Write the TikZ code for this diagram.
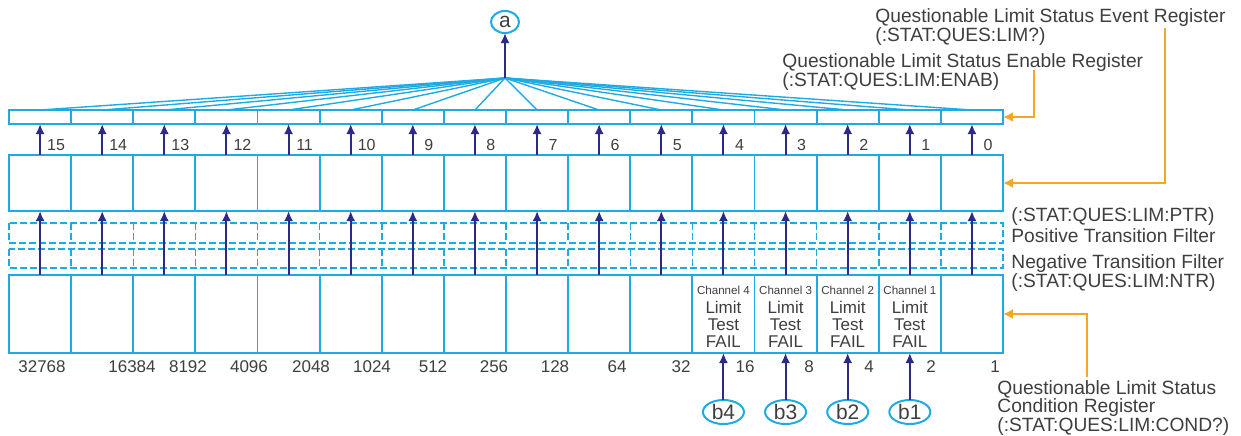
\documentclass[tikz,border=0pt]{standalone}
\usepackage{fontspec}
\setmainfont{Liberation Sans}
\usetikzlibrary{arrows.meta, shapes.geometric, calc}
\definecolor{regcol}{RGB}{30,170,226}
\definecolor{bitcol}{RGB}{43,42,135}
\definecolor{ptrcol}{RGB}{247,166,35}
\definecolor{inkcol}{RGB}{62,62,62}
\tikzset{
  cell/.style={draw=regcol, line width=0.9pt, inner sep=0pt, outer sep=0pt, minimum width=31.0625pt},
  encell/.style={cell, minimum height=7pt},
  evcell/.style={cell, minimum height=28pt},
  ptcell/.style={inner sep=0pt, outer sep=0pt, minimum width=31.0625pt, minimum height=10pt},
  ntcell/.style={ptcell, minimum height=9.5pt},
  cocell/.style={cell, minimum height=39pt},
  regframe/.style={regcol, line width=1.1pt},
  filterline/.style={regcol, line width=0.75pt, dash pattern=on 3.5pt off 1.5pt},
  fanline/.style={regcol, line width=0.7pt},
  bitarrow/.style={bitcol, line width=1pt, -{Latex[length=5pt, width=4.5pt]}},
  ptrarrow/.style={ptrcol, line width=1pt, -{Latex[length=5pt, width=5pt]}},
  bitnum/.style={inkcol, font=\fontsize{8}{8}\selectfont, inner sep=0pt},
  weight/.style={inkcol, font=\fontsize{8.5}{8.5}\selectfont, inner sep=0pt},
  reglabel/.style={inkcol, font=\fontsize{9.6}{9.7}\selectfont, align=left, anchor=north west, inner sep=0pt},
  chantext/.style={inkcol, font=\fontsize{8.5}{8.5}\selectfont, align=center, anchor=north, inner sep=0pt},
  bubble/.style={ellipse, draw=regcol, line width=1pt, inner sep=0pt, outer sep=0pt,
    text=inkcol, font=\fontsize{10.5}{10.5}\selectfont}
}

\begin{document}
\begin{tikzpicture}[x=0.5pt, y=-0.5pt]

  \useasboundingbox (0,0) rectangle (1241,435);

  % --- the five rows of 16 bit cells, bit 15 on the left ------------------
  \foreach \b in {0,...,15} {
    \pgfmathsetmacro\cx{9+(15.5-\b)*62.125}
    \node[encell] (en\b) at (\cx,117) {};
    \node[evcell] (ev\b) at (\cx,183) {};
    \node[ptcell] (pt\b) at (\cx,233) {};
    \node[ntcell] (nt\b) at (\cx,258.5) {};
    \node[cocell] (co\b) at (\cx,314) {};
    \node[bitnum] (bn\b) at (\cx+16,145) {\b};
  }

  % --- outer frames of the registers --------------------------------------
  \draw[regframe] (en15.north west) rectangle (en0.south east);
  \draw[regframe] (ev15.north west) rectangle (ev0.south east);
  \draw[regframe] (co15.north west) rectangle (co0.south east);

  % --- transition filters, dashed -----------------------------------------
  \draw[filterline] (pt15.north west) rectangle (pt0.south east);
  \draw[filterline] (nt15.north west) rectangle (nt0.south east);
  \foreach \b in {0,...,14} {
    \draw[filterline] (pt\b.north west) -- (pt\b.south west);
    \draw[filterline] (nt\b.north west) -- (nt\b.south west);
  }

  % --- bit paths: condition -> event -> enable ----------------------------
  \foreach \b in {0,...,15} {
    \draw[bitarrow] (co\b.north) -- (ev\b.south);
    \draw[bitarrow] (ev\b.north) -- (en\b.south);
  }

  % --- logical OR of the enabled bits, to summary bit a -------------------
  \coordinate (apex) at (505,78);
  \node[bubble, minimum width=14pt, minimum height=11pt] (a) at (505,22) {a};
  \foreach \b in {0,...,15}
    \draw[fanline] (apex) -- (en\b.north);
  \draw[bitarrow] (apex) -- (a.south);

  % --- bit weights under the condition register ---------------------------
  \foreach \b/\w/\px in {15/32768/42, 14/16384/132, 13/8192/188, 12/4096/249,
      11/2048/311, 10/1024/372, 9/512/433, 8/256/494, 7/128/555, 6/64/617,
      5/32/681, 4/16/745, 3/8/809, 2/4/869, 1/2/931, 0/1/995}
    \node[weight] (wt\b) at (\px,367) {\w};

  % --- channel limit test inputs ------------------------------------------
  \coordinate (brow) at (0,412);
  \foreach \c in {1,...,4} {
    \node[chantext] (ct\c) at ($(co\c.north)+(0,10.5)$)
      {{\fontsize{5.8}{5.8}\selectfont Channel \c}\\[1pt]Limit\\Test\\FAIL};
    \node[bubble, minimum width=20.5pt, minimum height=12pt] (b\c) at (co\c |- brow) {b\c};
    \draw[bitarrow] (b\c.north) -- (co\c.south);
  }

  % --- register names -----------------------------------------------------
  \node[reglabel] (evlbl) at (875,8) {Questionable Limit Status Event Register\\(:STAT:QUES:LIM?)};
  \node[reglabel] (enlbl) at (782,53) {Questionable Limit Status Enable Register\\(:STAT:QUES:LIM:ENAB)};
  \node[reglabel] (ptrlbl) at (1011,207) {(:STAT:QUES:LIM:PTR)\\[1pt]Positive Transition Filter};
  \node[reglabel] (ntrlbl) at (1011,254) {Negative Transition Filter\\(:STAT:QUES:LIM:NTR)};
  \node[reglabel, font=\fontsize{9.6}{9.3}\selectfont] (colbl) at (997,380)
    {Questionable Limit Status\\Condition Register\\(:STAT:QUES:LIM:COND?)};

  % --- pointers from the names to the registers ---------------------------
  \coordinate (evsrc) at (1165,28);
  \coordinate (ensrc) at (1034,70);
  \coordinate (cosrc) at (1087,377);
  \draw[ptrarrow] (evsrc) |- (ev0.east);
  \draw[ptrarrow] (ensrc) |- (en0.east);
  \draw[ptrarrow] (cosrc) |- (co0.east);

\end{tikzpicture}
\end{document}
